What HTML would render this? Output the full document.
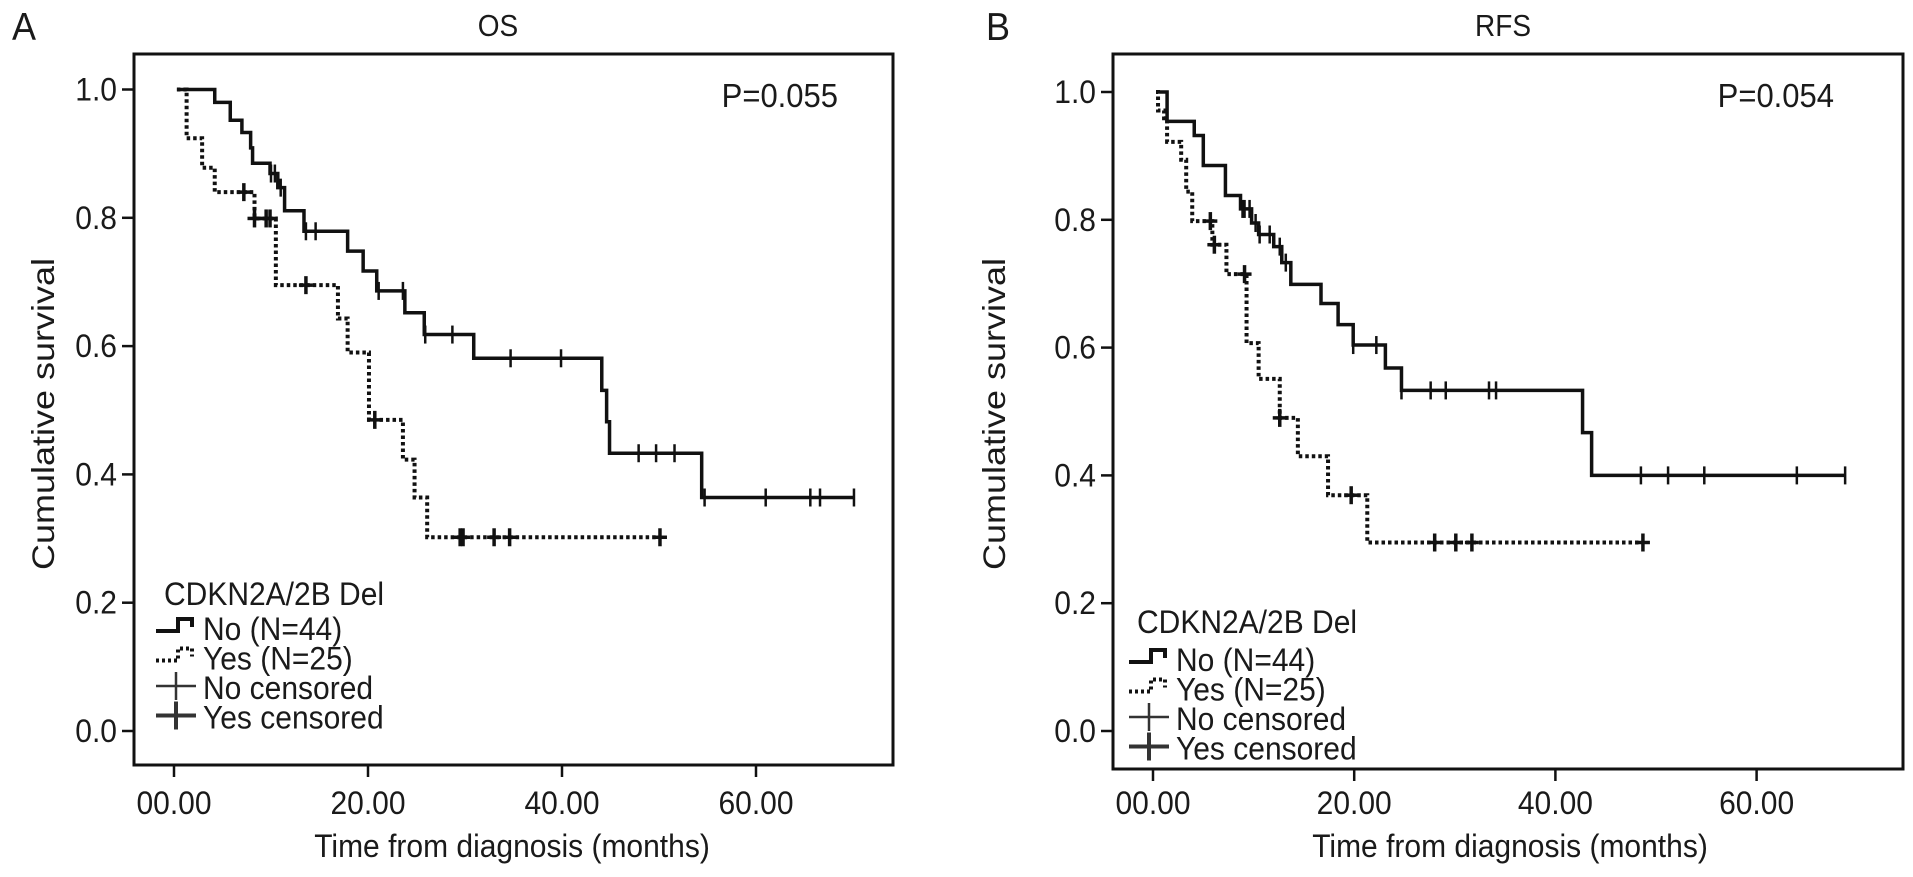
<!DOCTYPE html>
<html><head><meta charset="utf-8">
<style>
html,body{margin:0;padding:0;background:#fff;}
svg{display:block;font-family:"Liberation Sans",Arial,sans-serif;}
</style></head>
<body>
<svg id="chart" width="1913" height="877" viewBox="0 0 1913 877" xmlns="http://www.w3.org/2000/svg">
</svg>
<script>
// ---- Panel A: OS ----
const osNoTimes = [4.2, 5.8, 7.0, 7.9, 8.1, 9.9, 10.7, 11.4, 13.4, 17.9, 19.5, 20.9, 23.8, 25.8, 30.9, 44.1, 44.6, 44.9, 54.4];
const osNoSurv  = [0.980, 0.952, 0.933, 0.909, 0.885, 0.869, 0.847, 0.811, 0.779, 0.748, 0.717, 0.686, 0.652, 0.618, 0.581, 0.531, 0.482, 0.433, 0.364];
const osNoCensor = [10.0, 10.4, 11.0, 13.6, 14.6, 21.1, 23.6, 25.9, 28.7, 34.7, 39.9, 47.9, 49.7, 51.6, 54.7, 61.0, 65.6, 66.6, 70.1];
const osYesTimes = [1.3, 2.9, 4.2, 8.3, 10.5, 16.9, 17.9, 20.1, 23.6, 24.8, 26.1];
const osYesSurv  = [0.924, 0.878, 0.840, 0.799, 0.695, 0.643, 0.590, 0.485, 0.423, 0.364, 0.302];
const osYesCensor = [7.2, 8.3, 9.5, 9.9, 13.6, 20.7, 29.5, 29.8, 33.0, 34.6, 50.1];
// ---- Panel B: RFS ----
const rfsNoTimes = [1.4, 4.1, 5.0, 7.2, 8.7, 9.8, 10.5, 12.0, 12.8, 13.7, 16.7, 18.4, 19.9, 23.1, 24.7, 42.7, 43.6];
const rfsNoSurv  = [0.954, 0.932, 0.885, 0.838, 0.817, 0.795, 0.777, 0.758, 0.733, 0.699, 0.669, 0.636, 0.604, 0.568, 0.533, 0.467, 0.400];
const rfsNoCensor = [8.9, 9.1, 9.6, 10.2, 10.6, 11.6, 12.6, 13.2, 19.9, 22.2, 24.7, 27.6, 29.1, 33.4, 34.1, 48.5, 51.2, 54.8, 64.0, 68.8];
const rfsYesTimes = [0.5, 1.1, 1.4, 2.8, 3.3, 3.9, 5.9, 7.3, 9.3, 10.5, 12.6, 14.4, 17.4, 21.3];
const rfsYesSurv  = [0.971, 0.959, 0.922, 0.894, 0.844, 0.798, 0.761, 0.715, 0.607, 0.551, 0.490, 0.430, 0.369, 0.295];
const rfsYesCensor = [5.7, 6.1, 9.1, 12.6, 19.7, 28.0, 30.1, 31.7, 48.7];
// ---- Axis ticks ----
const xTicks = [0, 20, 40, 60];
const xTickLabels = ["00.00", "20.00", "40.00", "60.00"];
const yTicks = [0, 0.2, 0.4, 0.6, 0.8, 1.0];
const yTickLabels = ["0.0", "0.2", "0.4", "0.6", "0.8", "1.0"];

const NS = "http://www.w3.org/2000/svg";
const svg = document.getElementById("chart");
const VS = 1.08;
function mk(tag, attrs, parent) {
  const e = document.createElementNS(NS, tag);
  for (const k in attrs) e.setAttribute(k, attrs[k]);
  (parent || svg).appendChild(e);
  return e;
}
function txt(parent, x, y, size, anchor, str) {
  const e = mk("text", {x: 0, y: 0, "font-size": size, "text-anchor": anchor, fill: "#1a1a1a",
    transform: `translate(${x},${y}) scale(1,${VS})`}, parent);
  e.textContent = str;
  return e;
}

function survAt(times, surv, t) {
  let s = 1;
  for (let i = 0; i < times.length; i++) if (times[i] <= t) s = surv[i];
  return s;
}

function drawPanel(p) {
  const g = mk("g", {});
  
  
  const X = m => p.x0 + m * p.pxPerMonth;
  const Y = s => p.y0 - s * p.pxPerUnit;

  const letter = txt(g, p.letterX, 40, 36, "start", p.letter);
  
  
  const title = txt(g, p.titleX, 36, 28, "middle", p.title);
  
  
  const box = mk("rect", {x: p.bx, y: p.by, width: p.bw, height: p.bh, fill: "none", stroke: "#111", "stroke-width": 3}, g);
  
  
  yTicks.forEach((v, i) => {
    const y = Y(v);
    const t = mk("line", {x1: p.bx - 12, x2: p.bx, y1: y, y2: y, stroke: "#111", "stroke-width": 2.5}, g);
    
    
    const l = txt(g, p.bx - 17, y + 11, 30, "end", yTickLabels[i]);
    
    
  });
  xTicks.forEach((v, i) => {
    const x = X(v);
    const t = mk("line", {x1: x, x2: x, y1: p.by + p.bh, y2: p.by + p.bh + 12, stroke: "#111", "stroke-width": 2.5}, g);
    
    
    const l = txt(g, x, 814, 30, "middle", xTickLabels[i]);
    
    
  });
  const xt = txt(g, p.xTitleX, 857, 30, "middle", "Time from diagnosis (months)");
  
  
  const yt = mk("text", {x: 0, y: 0, "font-size": 36, "text-anchor": "middle", fill: "#1a1a1a",
    transform: `translate(${p.yTitleX},414) rotate(-90) scale(1,0.88)`}, g);
  yt.textContent = "Cumulative survival";
  
  
  const pv = txt(g, p.pX, 107, 31, "end", p.pText);
  
  

  function curve(times, surv, censor, dashed, nm) {
    const end = Math.max(censor[censor.length - 1], times[times.length - 1]);
    let d = `M${X(0.3)},${Y(1)}`;
    times.forEach((t, i) => { d += ` H${X(t)} V${Y(surv[i])}`; });
    d += ` H${X(end)}`;
    const path = mk("path", {d: d, fill: "none", stroke: "#111", "stroke-width": dashed ? 4 : 3.5,
      "stroke-dasharray": dashed ? "3.5 3" : "none"}, g);
    
    
    censor.forEach(c => {
      const y = Y(survAt(times, surv, c));
      const cm = mk("line", {x1: X(c), x2: X(c), y1: y - 9, y2: y + 9, stroke: "#111", "stroke-width": dashed ? 3.5 : 2.5}, g);
      
      
      if (dashed) {
        const hm = mk("line", {x1: X(c) - 7, x2: X(c) + 7, y1: y, y2: y, stroke: "#111", "stroke-width": 3.5}, g);
        
        
      }
    });
  }
  curve(p.noT, p.noS, p.noC, false, 'no-deletion');
  curve(p.yesT, p.yesS, p.yesC, true, 'yes-deletion');

  const lg = mk("g", {}, g);
  
  
  const lx = p.legX;
  const lt = txt(lg, lx + 10, p.legTitleY + 11, 30, "start", "CDKN2A/2B Del");
  
  
  const rows = [
    {t: "No (N=44)", kind: "solid"},
    {t: "Yes (N=25)", kind: "dot"},
    {t: "No censored", kind: "plus"},
    {t: "Yes censored", kind: "plusb"}
  ];
  rows.forEach((r, i) => {
    const cy = p.legRow0 + i * p.legStep;
    const sx = lx + 2;
    if (r.kind === "solid" || r.kind === "dot") {
      const sym = mk("path", {d: `M${sx},${cy + 2} H${sx + 22} V${cy - 10} H${sx + 36} V${cy - 2}`, fill: "none", stroke: "#111",
        "stroke-width": 4, "stroke-dasharray": r.kind === "dot" ? "3 3" : "none"}, lg);
      
      
    } else {
      const w = r.kind === "plusb" ? 4 : 2.5;
      const a = mk("line", {x1: sx, x2: sx + 40, y1: cy - 2, y2: cy - 2, stroke: "#333", "stroke-width": w}, lg);
      
      
      const b = mk("line", {x1: sx + 20, x2: sx + 20, y1: cy - 16, y2: cy + 12, stroke: "#333", "stroke-width": w}, lg);
      
      
    }
    const tx = txt(lg, sx + 47, cy + 11, 30, "start", r.t);
    
    
  });
}

drawPanel({name: "panel-a-os", letter: "A", letterX: 12, title: "OS", titleX: 498,
  bx: 134, by: 54, bw: 759, bh: 711, x0: 174, pxPerMonth: 9.7, y0: 731, pxPerUnit: 641.5,
  xTitleX: 512, yTitleX: 54, pX: 838, pText: "P=0.055", legX: 154, legTitleY: 594, legRow0: 629, legStep: 29.5,
  noT: osNoTimes, noS: osNoSurv, noC: osNoCensor, yesT: osYesTimes, yesS: osYesSurv, yesC: osYesCensor});
drawPanel({name: "panel-b-rfs", letter: "B", letterX: 986, title: "RFS", titleX: 1503,
  bx: 1113, by: 54, bw: 790, bh: 715, x0: 1153, pxPerMonth: 10.06, y0: 731, pxPerUnit: 639,
  xTitleX: 1510, yTitleX: 1005, pX: 1834, pText: "P=0.054", legX: 1127, legTitleY: 622, legRow0: 660, legStep: 29.5,
  noT: rfsNoTimes, noS: rfsNoSurv, noC: rfsNoCensor, yesT: rfsYesTimes, yesS: rfsYesSurv, yesC: rfsYesCensor});
</script>
</body></html>
